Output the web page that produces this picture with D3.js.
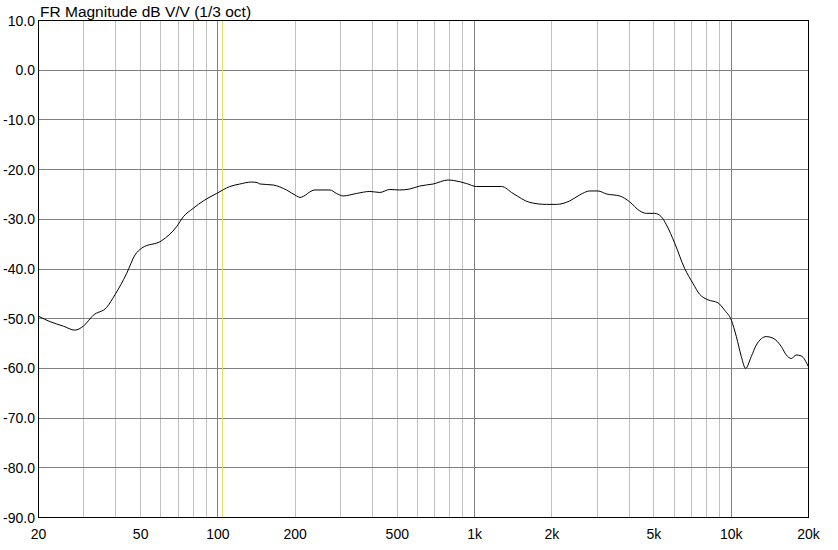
<!DOCTYPE html>
<html><head><meta charset="utf-8">
<script src="https://cdn.jsdelivr.net/npm/d3@7"></script>
<style>
html,body{margin:0;padding:0;background:#fff;}
svg{display:block;font-family:"Liberation Sans",Arial,sans-serif;}
</style></head>
<body><svg id="chart" width="838" height="550"></svg>
<script>
const title = "FR Magnitude dB V/V (1/3 oct)";
const freqs = [20,22.2,25.0,27.7,29.9,32.7,36.9,39.7,44.1,47.5,50.5,60.4,69.0,73.3,80.1,87.7,98.9,111.4,121.8,135.2,142,145.8,164.2,185.1,202.5,208.6,238.7,273,289.9,307.6,346.8,390.9,427.6,467.6,511.4,559.5,611.8,689.2,788.3,830,930,1017,1273,1413,1641,1906,2084,2349,2568,2810,3027,3264,3677,4022,4398,4671,5031,5343,5589,6022,6585,7093,7534,8118,8876,9426,10011,10470,10944,11377,11973,12523,13697,14532,15670,16387,17138,17924,18745,20000];
const magnitudes = [-49.5,-50.6,-51.5,-52.3,-51.5,-49.3,-47.7,-45.2,-40.9,-37.2,-35.8,-34.3,-31.5,-29.5,-27.8,-26.3,-24.8,-23.4,-22.9,-22.5,-22.6,-22.9,-23.1,-24.1,-25.3,-25.6,-24.1,-24.1,-24.8,-25.3,-24.8,-24.4,-24.6,-24.0,-24.1,-23.9,-23.3,-22.9,-22.1,-22.2,-22.8,-23.4,-23.4,-24.8,-26.6,-27.0,-27.0,-26.3,-25.1,-24.3,-24.3,-24.9,-25.3,-26.5,-28.3,-28.8,-28.8,-29.5,-31.1,-34.8,-39.9,-42.9,-45.1,-46.2,-46.8,-48.3,-50.3,-53.6,-57.6,-60.0,-57.6,-55.3,-53.6,-53.9,-55.6,-57.3,-58.0,-57.3,-57.5,-59.7];
const xTickValues = [20,50,100,200,500,1000,2000,5000,10000,20000];
const xTickLabels = ["20","50","100","200","500","1k","2k","5k","10k","20k"];
const minorFreqs = [30,40,50,60,70,80,90,200,300,400,500,600,700,800,900,2000,3000,4000,5000,6000,7000,8000,9000];
const majorFreqs = [100,1000,10000];
const yTickValues = [10,0,-10,-20,-30,-40,-50,-60,-70,-80,-90];
const markerFreq = 104.6;

const svg = d3.select("#chart");
const x = d3.scaleLog().domain([20,20000]).range([38.5,808.5]);
const y = d3.scaleLinear().domain([-90,10]).range([517.5,20.5]);
const px = v => Math.round(v-0.5)+0.5;

svg.append("rect").attr("width",838).attr("height",550).attr("fill","#fff");

const g = svg.append("g");
// minor vertical grid
g.selectAll("line.minor").data(minorFreqs).enter().append("line")
  .attr("x1",d=>px(x(d))).attr("x2",d=>px(x(d))).attr("y1",20.5).attr("y2",517.5)
  .attr("stroke","#c0c0c0").attr("stroke-width",1);
// horizontal grid
g.selectAll("line.h").data(yTickValues.slice(1,-1)).enter().append("line")
  .attr("x1",38.5).attr("x2",808.5).attr("y1",d=>px(y(d))).attr("y2",d=>px(y(d)))
  .attr("stroke","#808080").attr("stroke-width",1);
// major vertical grid
g.selectAll("line.major").data(majorFreqs).enter().append("line")
  .attr("x1",d=>px(x(d))).attr("x2",d=>px(x(d))).attr("y1",20.5).attr("y2",517.5)
  .attr("stroke","#808080").attr("stroke-width",1);
// marker
g.append("line").attr("x1",px(x(markerFreq))).attr("x2",px(x(markerFreq)))
  .attr("y1",20.5).attr("y2",517.5).attr("stroke","#e6dc64").attr("stroke-width",1);

// curve
const line = d3.line().x((d,i)=>x(freqs[i])).y(d=>y(d)).curve(d3.curveMonotoneX);
g.append("path").datum(magnitudes).attr("d",line).attr("fill","none")
  .attr("stroke","#000").attr("stroke-width",1);

// frame
g.append("rect").attr("x",38.5).attr("y",20.5).attr("width",770).attr("height",497)
  .attr("fill","none").attr("stroke","#000").attr("stroke-width",1);

// y labels
svg.selectAll("text.yl").data(yTickValues).enter().append("text")
  .attr("x",35).attr("y",d=>y(d)).attr("dy","0.36em").attr("text-anchor","end")
  .attr("font-size","14px").attr("fill","#000").text(d=>d.toFixed(1));
// x labels
svg.selectAll("text.xl").data(xTickValues).enter().append("text")
  .attr("x",d=>x(d)).attr("y",538.5).attr("text-anchor","middle")
  .attr("font-size","14px").attr("fill","#000").text((d,i)=>xTickLabels[i]);
// title
svg.append("text").attr("x",40).attr("y",16.5).attr("font-size","15.5px").attr("fill","#000").text(title);
</script>
</body></html>
